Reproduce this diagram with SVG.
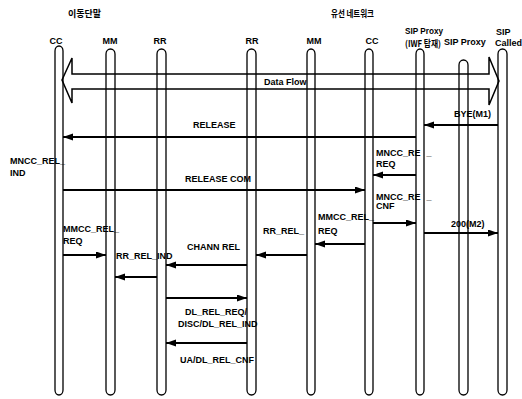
<svg xmlns="http://www.w3.org/2000/svg" width="522" height="399" viewBox="0 0 522 399">
<style>
.t{font-family:"Liberation Sans",Arial,sans-serif;font-weight:bold;font-size:9px;fill:#000}
.k{font-family:"Noto Sans CJK KR","Liberation Sans",sans-serif;font-weight:bold;font-size:9px;fill:#000}
.ll{fill:none;stroke:#000;stroke-width:1.3}
.m{stroke:#000;stroke-width:2;fill:none;marker-end:url(#ah)}
</style>
<defs>
<marker id="ah" markerUnits="userSpaceOnUse" markerWidth="11" markerHeight="8" refX="10" refY="3.5" orient="auto">
<path d="M0,0 L10,3.5 L0,7 z" fill="#000"/>
</marker>
</defs>
<rect width="522" height="399" fill="#fff"/>
<text class="k" x="68" y="17" font-size="10">이동단말</text>
<text class="k" x="331" y="17" textLength="43" lengthAdjust="spacingAndGlyphs">유선 네트워크</text>

<g id="cc1"><text class="t" x="56" y="44" text-anchor="middle">CC</text><rect class="ll" x="55" y="46" width="8" height="349" rx="4" ry="5"/></g>
<g id="mm1"><text class="t" x="110" y="44" text-anchor="middle">MM</text><rect class="ll" x="106" y="49" width="9" height="346" rx="4.5" ry="5"/></g>
<g id="rr1"><text class="t" x="160" y="44" text-anchor="middle">RR</text><rect class="ll" x="157" y="49" width="9" height="346" rx="4.5" ry="5"/></g>
<g id="rr2"><text class="t" x="252" y="44" text-anchor="middle">RR</text><rect class="ll" x="247" y="49" width="9" height="346" rx="4.5" ry="5"/></g>
<g id="mm2"><text class="t" x="314" y="44" text-anchor="middle">MM</text><rect class="ll" x="307" y="49" width="8" height="346" rx="4" ry="5"/></g>
<g id="cc2"><text class="t" x="372" y="44" text-anchor="middle">CC</text><rect class="ll" x="365" y="49" width="8" height="346" rx="4" ry="5"/></g>
<g id="sipiwf"><text class="t" x="405" y="34" textLength="38" lengthAdjust="spacingAndGlyphs">SIP Proxy</text><text class="k" x="405" y="46.5" font-size="8" textLength="36" lengthAdjust="spacingAndGlyphs">(IWF 탑재)</text><rect class="ll" x="416" y="49" width="8" height="346" rx="4" ry="5"/></g>
<g id="sip2"><text class="t" x="444" y="45">SIP Proxy</text><rect class="ll" x="459" y="60" width="9" height="335" rx="4.5" ry="5"/></g>
<g id="sipcalled"><text class="t" x="496" y="35">SIP</text><text class="t" x="495" y="46">Called</text><rect class="ll" x="498" y="49" width="9" height="346" rx="4.5" ry="5"/></g>

<g id="dataflow">
<path d="M72,74 L72,58 L62,80 L72,103 L72,89 L489,89 L489,105 L499,81 L489,57 L489,74 Z" fill="none" stroke="#000" stroke-width="1.5" stroke-linejoin="miter"/>
<text class="t" x="264" y="85">Data Flow</text>
</g>

<g id="connectors">
<line class="m" x1="498" y1="125" x2="424" y2="125"/>
<line class="m" x1="416" y1="137" x2="63" y2="137"/>
<line class="m" x1="416" y1="175" x2="373" y2="175"/>
<line class="m" x1="63" y1="190" x2="365" y2="190"/>
<line class="m" x1="373" y1="223" x2="416" y2="223"/>
<line class="m" x1="424" y1="233" x2="498" y2="233"/>
<line class="m" x1="365" y1="244" x2="315" y2="244"/>
<line class="m" x1="307" y1="255" x2="256" y2="255"/>
<line class="m" x1="247" y1="265" x2="166" y2="265"/>
<line class="m" x1="63" y1="255" x2="106" y2="255"/>
<line class="m" x1="157" y1="277" x2="115" y2="277"/>
<line class="m" x1="166" y1="298" x2="247" y2="298"/>
<line class="m" x1="247" y1="343" x2="166" y2="343"/>
</g>

<g id="labels">
<text class="t" x="454" y="117">BYE(M1)</text>
<text class="t" x="193" y="128">RELEASE</text>
<text class="t" x="10" y="164">MNCC_REL_</text>
<text class="t" x="10" y="176">IND</text>
<text class="t" x="376" y="156">MNCC_RE<tspan dx="6">_</tspan></text>
<text class="t" x="376" y="167">REQ</text>
<text class="t" x="185" y="182">RELEASE COM</text>
<text class="t" x="376" y="200">MNCC_RE<tspan dx="6">_</tspan></text>
<text class="t" x="376" y="209">CNF</text>
<text class="t" x="451" y="227">200(M2)</text>
<text class="t" x="318" y="220">MMCC_REL_</text>
<text class="t" x="263" y="234">RR_REL_<tspan dx="14">REQ</tspan></text>
<text class="t" x="187" y="250">CHANN REL</text>
<text class="t" x="63" y="232">MMCC_REL_</text>
<text class="t" x="63" y="244">REQ</text>
<text class="t" x="116" y="259">RR_REL_IND</text>
<text class="t" x="185" y="315">DL_REL_REQ/</text>
<text class="t" x="178" y="327">DISC/DL_REL_IND</text>
<text class="t" x="180" y="363">UA/DL_REL_CNF</text>
</g>
</svg>
